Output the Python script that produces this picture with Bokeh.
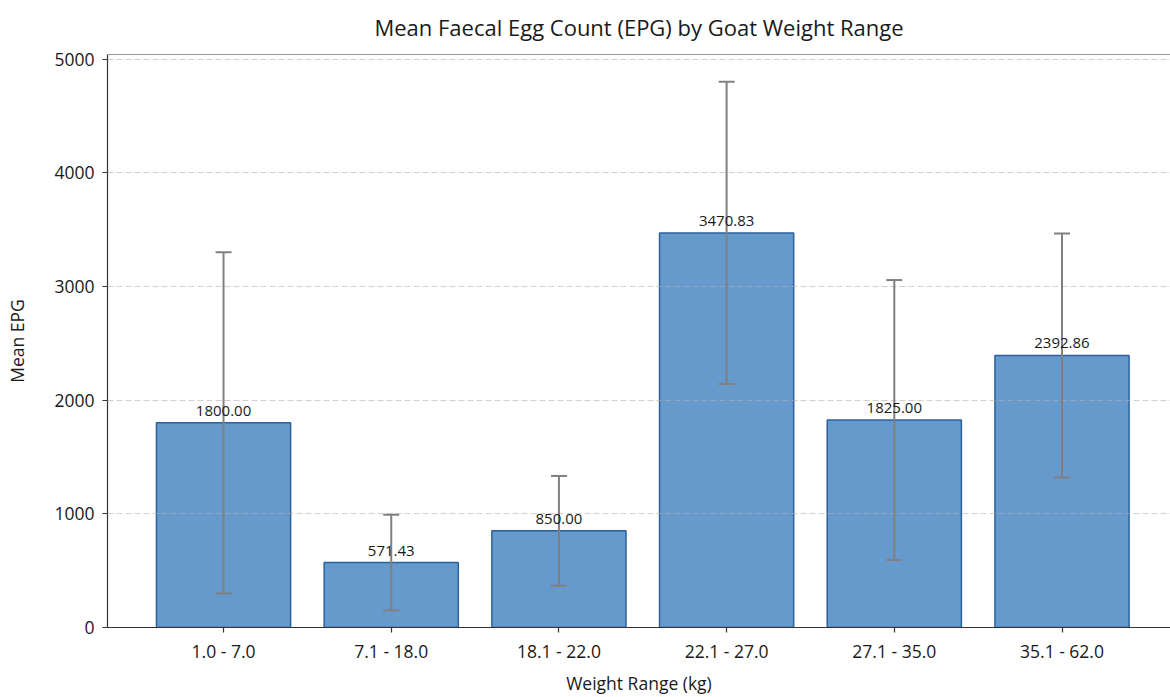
from bokeh.plotting import figure
from bokeh.models import (ColumnDataSource, Range1d, FixedTicker, Whisker, TeeHead,
                          Span, LabelSet)
from bokeh.core.properties import value
from bokeh.embed import file_html
from bokeh.resources import INLINE

# ---- data ----
categories = ["1.0 - 7.0", "7.1 - 18.0", "18.1 - 22.0", "22.1 - 27.0", "27.1 - 35.0", "35.1 - 62.0"]
mean_epg = [1800.00, 571.43, 850.00, 3470.83, 1825.00, 2392.86]
std_epg = [1500, 420, 483, 1329, 1231, 1073]
y_ticks = [0, 1000, 2000, 3000, 4000, 5000]
y_max = 5040

FONT = "Open Sans"
TXT = "#1a1a1a"

xs = list(range(len(categories)))
src = ColumnDataSource(dict(
    x=xs,
    top=mean_epg,
    upper=[m + s for m, s in zip(mean_epg, std_epg)],
    lower=[m - s for m, s in zip(mean_epg, std_epg)],
    label=[f"{m:.2f}" for m in mean_epg],
))

p = figure(width=1170, height=697, output_backend="svg", toolbar_location=None,
           x_range=Range1d(-0.692, 5.647), y_range=Range1d(0, y_max),
           min_border_left=107, min_border_right=0, min_border_top=53, min_border_bottom=69)

p.title.text = "Mean Faecal Egg Count (EPG) by Goat Weight Range"
p.title.align = "center"
p.title.offset = 4
p.title.text_font = FONT
p.title.text_font_size = "22px"
p.title.text_font_style = "normal"
p.title.text_color = TXT
p.title.text_line_height = 1.0
p.title.vertical_align = "top"
p.title.standoff = 22

p.outline_line_color = None
p.background_fill_color = "white"
p.border_fill_color = "white"

p.vbar(x="x", top="top", bottom=0, width=0.8, source=src,
       fill_color="#6699cc", line_color="#2d619a", line_width=1.5)

# grid over bars
p.xgrid.visible = False
p.ygrid.ticker = FixedTicker(ticks=y_ticks)
p.ygrid.grid_line_color = "#b0b0b0"
p.ygrid.grid_line_alpha = 0.6
p.ygrid.grid_line_dash = "6 3"
p.ygrid.level = "overlay"

err = Whisker(base="x", upper="upper", lower="lower", source=src,
              line_color="#808080", line_width=2,
              upper_head=TeeHead(size=16, line_color="#808080", line_width=2),
              lower_head=TeeHead(size=16, line_color="#808080", line_width=2),
              level="overlay")
p.add_layout(err)

labels = LabelSet(x="x", y="top", text="label", source=src, text_align="center",
                  text_baseline="bottom", y_offset=7, text_font=value(FONT),
                  text_font_size=value("15px"), text_color=TXT, level="overlay")
p.add_layout(labels)

p.add_layout(Span(location=y_max, dimension="width", line_color="#333333", line_width=1.2))

# axes
p.xaxis.ticker = FixedTicker(ticks=xs)
p.xaxis.major_label_overrides = {i: c for i, c in enumerate(categories)}
p.yaxis.ticker = FixedTicker(ticks=y_ticks)
p.xaxis.axis_label = "Weight Range (kg)"
p.yaxis.axis_label = "Mean EPG"
for ax in (p.xaxis, p.yaxis):
    ax.axis_line_color = "#333333"
    ax.axis_line_width = 1.2
    ax.major_tick_line_color = "#333333"
    ax.major_tick_line_width = 1.2
    ax.major_tick_out = 5
    ax.major_tick_in = 0
    ax.minor_tick_line_color = None
    ax.major_label_text_font = FONT
    ax.major_label_text_font_size = "17.5px"
    ax.major_label_text_color = TXT
    ax.axis_label_text_font = FONT
    ax.axis_label_text_font_size = "17.5px"
    ax.axis_label_text_font_style = "normal"
    ax.axis_label_text_color = TXT
p.xaxis.major_label_standoff = 6
p.yaxis.major_label_standoff = 8
p.xaxis.axis_label_standoff = 5
p.yaxis.axis_label_standoff = 22

open("out.html", "w").write(file_html(p, INLINE))
